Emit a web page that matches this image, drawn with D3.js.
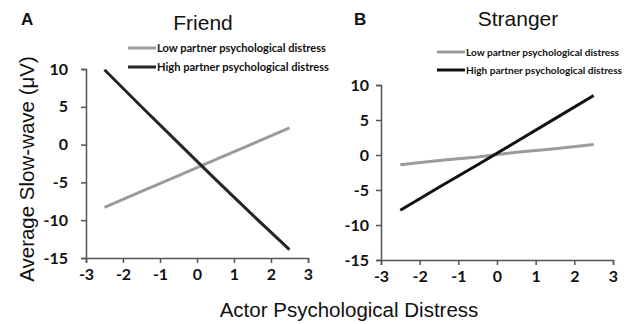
<!DOCTYPE html>
<html>
<head>
<meta charset="utf-8">
<script src="https://cdn.jsdelivr.net/npm/d3@7"></script>
<style>
  html, body { margin: 0; padding: 0; background: #fff; }
  svg { display: block; }
</style>
</head>
<body>
<svg id="chart" width="631" height="324"></svg>
<script>
// Actor psychological distress (x) values at which the simple slopes are plotted
const actorX = [-2.5, -1.5, -0.5, 0.5, 1.5, 2.5];

// Panel A: Friend
const friendLow  = [-8.3, -6.2, -4.1, -2.0, 0.1, 2.2];
const friendHigh = [9.9, 5.0, 0.2, -4.6, -9.3, -13.9];

// Panel B: Stranger
const strangerLow  = [-1.4, -0.8, -0.3, 0.4, 0.9, 1.5];
const strangerHigh = [-7.9, -4.6, -1.4, 1.9, 5.2, 8.5];

const xTicks = [-3, -2, -1, 0, 1, 2, 3];
const yTicks = [-15, -10, -5, 0, 5, 10];
const seriesNames = ["Low partner psychological distress", "High partner psychological distress"];

const svg = d3.select("#chart");
const tickFont = "Lato, 'Open Sans', sans-serif";
const fmt = d => String(d);   // plain hyphen-minus labels

const panels = [
  { letter: "A", title: "Friend", low: friendLow, high: friendHigh,
    xr: [86, 308], yr: [258, 69], titleX: 203, titleY: 30, letterX: 21,
    legX: 128, legY: [48, 67], legFont: 11, legLen: [169, 172], highColor: "#262626" },
  { letter: "B", title: "Stranger", low: strangerLow, high: strangerHigh,
    xr: [381, 613], yr: [260, 85], titleX: 518, titleY: 26, letterX: 354,
    legX: 437, legY: [52, 70], legFont: 10, legLen: [153, 156], highColor: "#111" }
];

panels.forEach(p => {
  const x = d3.scaleLinear().domain([-3, 3]).range(p.xr);
  const y = d3.scaleLinear().domain([-15, 10]).range(p.yr);
  const g = svg.append("g");

  // axes
  const xAxis = g.append("g")
    .attr("transform", `translate(0,${p.yr[0]})`)
    .call(d3.axisBottom(x).tickValues(xTicks).tickSize(5).tickPadding(3).tickFormat(fmt));
  const yAxis = g.append("g")
    .attr("transform", `translate(${p.xr[0]},0)`)
    .call(d3.axisLeft(y).tickValues(yTicks).tickSize(5).tickPadding(p.letter === "A" ? 13 : 7).tickFormat(fmt));
  [xAxis, yAxis].forEach(a => {
    a.select(".domain").attr("stroke", "#555").attr("stroke-width", 1.5);
    a.selectAll(".tick line").attr("stroke", "#555").attr("stroke-width", 1.5);
    a.selectAll(".tick text")
      .attr("fill", "#111")
      .style("font-family", tickFont)
      .style("font-weight", "bold")
      .style("font-size", "16px");
  });
  xAxis.selectAll(".tick text").attr("dy", "0.85em");

  // lines
  const line = d3.line().x((d, i) => x(actorX[i])).y(d => y(d));
  g.append("path").datum(p.low)
    .attr("d", line).attr("fill", "none")
    .attr("stroke", "#9b9b9b").attr("stroke-width", 3);
  g.append("path").datum(p.high)
    .attr("d", line).attr("fill", "none")
    .attr("stroke", p.highColor).attr("stroke-width", 3);

  // legend
  const colors = ["#9b9b9b", p.highColor];
  seriesNames.forEach((name, i) => {
    g.append("line")
      .attr("x1", p.legX).attr("x2", p.legX + 28)
      .attr("y1", p.legY[i]).attr("y2", p.legY[i])
      .attr("stroke", colors[i]).attr("stroke-width", 3);
    g.append("text")
      .attr("x", p.legX + 29).attr("y", p.legY[i])
      .attr("dy", "0.35em")
      .attr("textLength", p.legLen[i])
      .attr("lengthAdjust", "spacingAndGlyphs")
      .style("font-family", tickFont)
      .style("font-weight", "bold")
      .style("font-size", p.legFont + "px")
      .attr("fill", "#111")
      .text(name);
  });

  // title and panel letter
  g.append("text")
    .attr("x", p.titleX).attr("y", p.titleY)
    .attr("text-anchor", "middle")
    .style("font-family", "Liberation Sans, Arial, sans-serif")
    .style("font-size", "21px")
    .attr("fill", "#111")
    .text(p.title);
  g.append("text")
    .attr("x", p.letterX).attr("y", 25)
    .style("font-family", "Liberation Sans, Arial, sans-serif")
    .style("font-weight", "bold")
    .style("font-size", "17px")
    .attr("fill", "#111")
    .text(p.letter);
});

// shared axis titles
svg.append("text")
  .attr("transform", "translate(34,169) rotate(-90)")
  .attr("text-anchor", "middle")
  .style("font-family", "Liberation Sans, Arial, sans-serif")
  .style("font-size", "20.5px")
  .attr("fill", "#111")
  .text("Average Slow-wave (\u03bcV)");

svg.append("text")
  .attr("x", 349).attr("y", 317)
  .attr("text-anchor", "middle")
  .style("font-family", "Liberation Sans, Arial, sans-serif")
  .style("font-size", "20.5px")
  .attr("fill", "#111")
  .text("Actor Psychological Distress");
</script>
</body>
</html>
